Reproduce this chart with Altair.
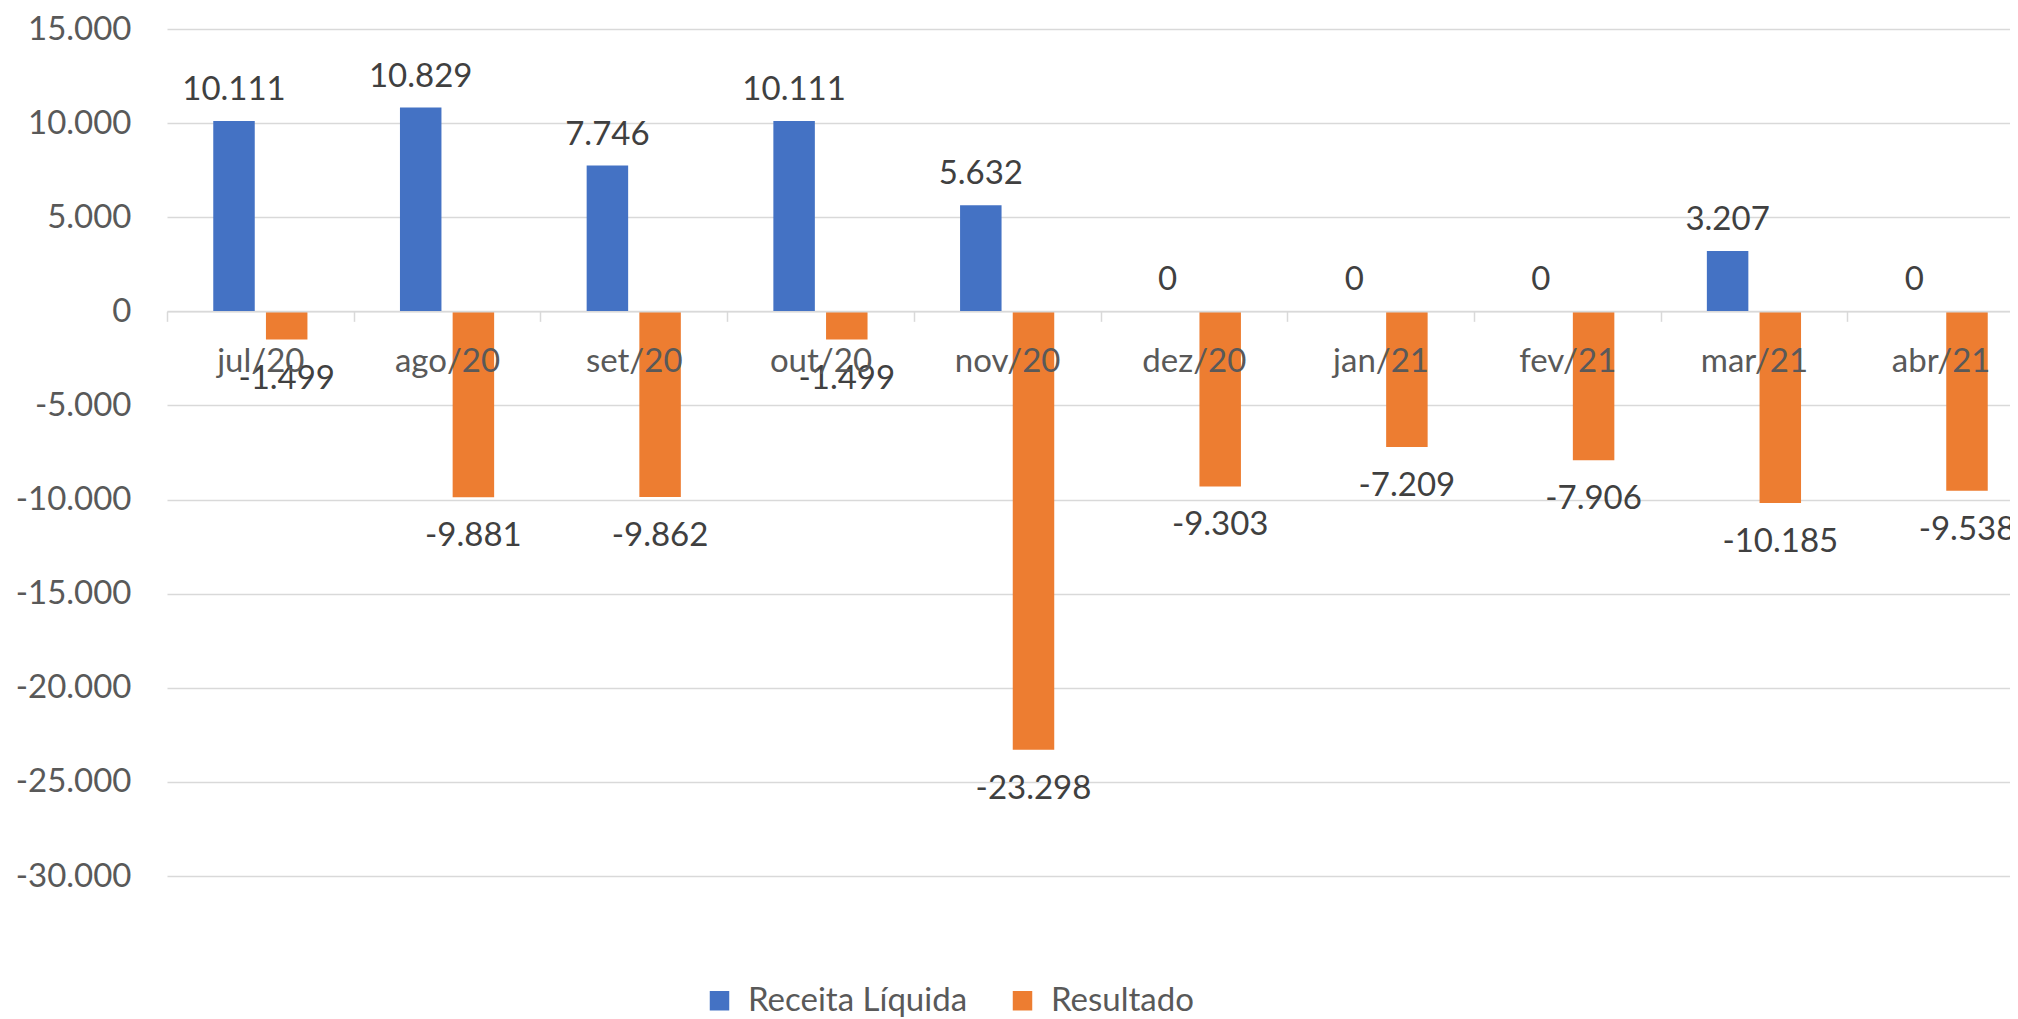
import altair as alt
import pandas as pd

meses = ["jul/20", "ago/20", "set/20", "out/20", "nov/20",
         "dez/20", "jan/21", "fev/21", "mar/21", "abr/21"]
receita = [10111, 10829, 7746, 10111, 5632, 0, 0, 0, 3207, 0]
resultado = [-1499, -9881, -9862, -1499, -23298, -9303, -7209, -7906, -10185, -9538]
series = ["Receita Líquida", "Resultado"]
cores = ["#4472C4", "#ED7D31"]
y_ticks = [-30000, -25000, -20000, -15000, -10000, -5000, 0, 5000, 10000, 15000]

rows = []
for m, r, s in zip(meses, receita, resultado):
    rows.append({"mes": m, "serie": series[0], "valor": r})
    rows.append({"mes": m, "serie": series[1], "valor": s})
df = pd.DataFrame(rows)

FONT = "Lato"
FS = 33
W, H = 1843, 847
STEP = 186.7
YMIN, YMAX = -30000, 15000

x = alt.X(
    "mes:N", sort=meses,
    scale=alt.Scale(range=[0, STEP * len(meses)], paddingInner=0, paddingOuter=0),
    axis=alt.Axis(title=None, labelAngle=0, tickBand="extent", zindex=1,
                  domainColor="#d9d9d9", tickColor="#d9d9d9", tickSize=10,
                  domainWidth=1.5, tickWidth=1.5, labelFont=FONT, labelFontSize=FS,
                  labelColor="#595959", labelPadding=24, grid=False,
                  offset=-(H * (0 - YMIN) / (YMAX - YMIN))),
)
xo = alt.XOffset("serie:N", sort=series,
                 scale=alt.Scale(paddingInner=0.2125, paddingOuter=0.878))
y = alt.Y(
    "valor:Q",
    scale=alt.Scale(domain=[YMIN, YMAX], nice=False),
    axis=alt.Axis(values=y_ticks, format=",d", title=None, domain=False, ticks=False,
                  labelPadding=36, gridColor="#d9d9d9", gridWidth=1.5,
                  labelFont=FONT, labelFontSize=FS, labelColor="#595959"),
)

base = alt.Chart(df)

bars = base.mark_bar().encode(
    x=x, xOffset=xo, y=y,
    color=alt.Color("serie:N", sort=series,
                    scale=alt.Scale(domain=series, range=cores),
                    legend=alt.Legend(title=None, orient="none", legendX=536, legendY=955,
                                      direction="horizontal", symbolType="square",
                                      symbolSize=380, symbolStrokeWidth=0,
                                      labelFont=FONT, labelFontSize=FS, labelLimit=0,
                                      labelColor="#595959", columnPadding=38,
                                      labelOffset=12, padding=0)),
)

pos = base.transform_filter(alt.datum.serie == series[0]).mark_text(
    baseline="alphabetic", dy=-21, font=FONT, fontSize=FS, color="#404040"
).encode(x=x, xOffset=xo, y=y, text=alt.Text("valor:Q", format=",d"))

neg = base.transform_filter(alt.datum.serie == series[1]).mark_text(
    baseline="alphabetic", dy=49, font=FONT, fontSize=FS, color="#404040"
).encode(x=x, xOffset=xo, y=y, text=alt.Text("valor:Q", format=",d"))

chart = alt.layer(bars, pos, neg).properties(
    width=W, height=H,
    autosize=alt.AutoSizeParams(type="none"),
    padding={"left": 159, "top": 21, "right": 0, "bottom": 143},
).configure(
    locale={"number": {"decimal": ",", "thousands": ".", "grouping": [3],
                       "currency": ["R$", ""], "minus": "-"}}
).configure_view(stroke=None)

chart.save("out.html", embed_options={"renderer": "svg", "actions": False})
